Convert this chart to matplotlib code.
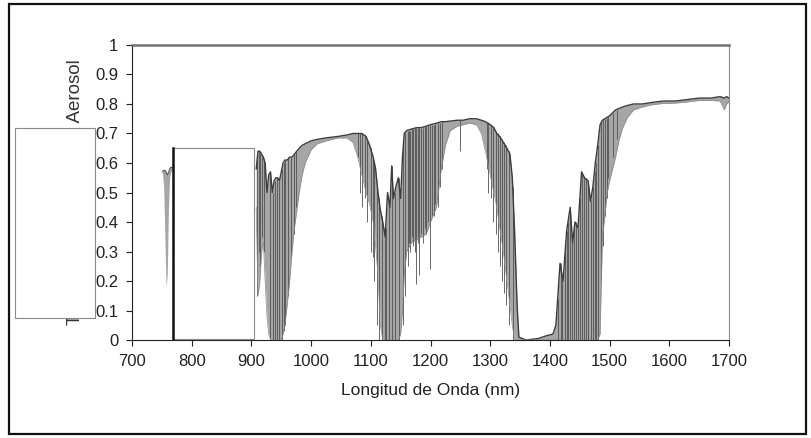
import matplotlib
matplotlib.use("Agg")
import matplotlib.pyplot as plt
from matplotlib.patches import Rectangle

plt.rcParams["font.family"] = ["Liberation Sans", "DejaVu Sans"]

# O2 A-band fragment visible left of the covering box
O2_WL = [751, 753, 755, 757, 759, 761, 763, 765, 767, 769]
O2_TOP = [0.57, 0.575, 0.575, 0.57, 0.56, 0.565, 0.58, 0.585, 0.585, 0.585]
O2_LOW = [0.565, 0.52, 0.35, 0.18, 0.22, 0.45, 0.55, 0.57, 0.575, 0.58]

# main spectrum, upper and lower envelope (nm, transmittance)
WL = [908, 911, 914, 917, 920, 923, 926, 929, 932, 935, 938, 941, 944, 947,
      950, 953, 956, 960, 964, 968, 972, 976, 980, 985, 990, 1000, 1010, 1025,
      1045, 1060, 1070, 1078, 1085, 1092, 1098, 1104, 1108, 1112, 1116, 1120,
      1124, 1128, 1132, 1135, 1138, 1142, 1146, 1150, 1153, 1156, 1160, 1168,
      1177, 1185, 1193, 1200, 1210, 1218, 1225, 1233, 1245, 1255, 1265, 1277,
      1285, 1292, 1300, 1306, 1311, 1316, 1322, 1328, 1333, 1337, 1341, 1345,
      1348, 1360, 1380, 1395, 1405, 1410, 1413, 1417, 1422, 1428, 1434, 1438,
      1442, 1447, 1453, 1458, 1464, 1468, 1472, 1476, 1480, 1484, 1488, 1492,
      1496, 1500, 1505, 1510, 1516, 1522, 1530, 1540, 1555, 1570, 1590, 1610,
      1630, 1650, 1670, 1685, 1692, 1696, 1700]
TOP = [0.58, 0.64, 0.64, 0.63, 0.62, 0.60, 0.50, 0.56, 0.57, 0.50, 0.54, 0.55, 0.55, 0.54,
       0.57, 0.60, 0.61, 0.61, 0.62, 0.62, 0.63, 0.64, 0.65, 0.66, 0.665, 0.675, 0.68, 0.685,
       0.69, 0.695, 0.70, 0.70, 0.70, 0.69, 0.66, 0.62, 0.58, 0.50, 0.44, 0.40,
       0.35, 0.50, 0.45, 0.59, 0.48, 0.52, 0.55, 0.48, 0.62, 0.70, 0.71, 0.715,
       0.72, 0.72, 0.725, 0.73, 0.735, 0.74, 0.74, 0.742, 0.745, 0.745, 0.75, 0.75,
       0.745, 0.74, 0.73, 0.72, 0.70, 0.69, 0.67, 0.65, 0.63, 0.55, 0.36, 0.12,
       0.01, 0.0, 0.005, 0.015, 0.02, 0.05, 0.14, 0.26, 0.20, 0.37, 0.45, 0.33,
       0.40, 0.38, 0.57, 0.55, 0.54, 0.47, 0.52, 0.60, 0.66, 0.73, 0.745, 0.75,
       0.755, 0.76, 0.77, 0.78, 0.785, 0.79, 0.795, 0.80, 0.80, 0.805, 0.81, 0.81,
       0.815, 0.82, 0.82, 0.825, 0.82, 0.825, 0.82]
LOW = [0.45, 0.15, 0.20, 0.30, 0.33, 0.20, 0.08, 0.02, 0.0, 0.0, 0.0, 0.0, 0.0, 0.0,
       0.0, 0.02, 0.05, 0.12, 0.20, 0.30, 0.38, 0.44, 0.50, 0.56, 0.60, 0.645, 0.665, 0.675,
       0.685, 0.685, 0.67, 0.62, 0.56, 0.50, 0.46, 0.40, 0.32, 0.22, 0.05, 0.0,
       0.0, 0.0, 0.0, 0.0, 0.0, 0.0, 0.0, 0.02, 0.10, 0.22, 0.30, 0.33,
       0.34, 0.35, 0.36, 0.40, 0.45, 0.58, 0.66, 0.71, 0.725, 0.73, 0.735, 0.73,
       0.70, 0.64, 0.56, 0.50, 0.45, 0.38, 0.30, 0.20, 0.12, 0.05, 0.0, 0.0,
       0.0, 0.0, 0.0, 0.0, 0.0, 0.0, 0.0, 0.0, 0.0, 0.0, 0.0, 0.0,
       0.0, 0.0, 0.0, 0.0, 0.0, 0.0, 0.0, 0.0, 0.0, 0.02, 0.35, 0.42,
       0.50, 0.54, 0.58, 0.62, 0.68, 0.72, 0.755, 0.78, 0.79, 0.797, 0.802, 0.803,
       0.807, 0.812, 0.812, 0.81, 0.78, 0.80, 0.808]

# darker absorption strands
LINE_WL = [910, 912, 915, 918, 921, 931, 936, 939, 943, 946, 951, 954, 957, 962, 966, 971, 975,
           1078, 1082, 1086, 1090, 1094, 1100, 1104, 1106, 1111, 1114, 1118, 1123, 1126, 1130,
           1135, 1141, 1147, 1154,
           1158, 1162, 1164, 1166, 1169, 1171, 1174, 1176, 1179, 1181, 1184, 1187, 1190,
           1193, 1196, 1199, 1202, 1205, 1208, 1212, 1216, 1220, 1250,
           1294, 1297, 1301, 1305, 1309, 1313, 1317, 1320, 1323, 1326, 1332, 1338,
           1414, 1418, 1421, 1425, 1428, 1431, 1434, 1437, 1440, 1443, 1447, 1450, 1453,
           1457, 1460, 1464, 1468, 1472, 1475, 1477, 1481, 1486, 1489, 1492, 1495, 1498,
           1505, 1512]
LINE_TOP = [0.62, 0.64, 0.63, 0.62, 0.61, 0.56, 0.50, 0.54, 0.55, 0.54, 0.58, 0.60, 0.61, 0.62, 0.62, 0.63, 0.64,
            0.70, 0.70, 0.70, 0.695, 0.68, 0.65, 0.62, 0.60, 0.52, 0.48, 0.42, 0.36, 0.38, 0.46,
            0.59, 0.50, 0.55, 0.66,
            0.70, 0.71, 0.71, 0.71, 0.715, 0.715, 0.72, 0.72, 0.72, 0.72, 0.72, 0.72, 0.722,
            0.725, 0.727, 0.73, 0.73, 0.73, 0.733, 0.735, 0.737, 0.74, 0.745,
            0.737, 0.735, 0.73, 0.72, 0.71, 0.70, 0.69, 0.68, 0.67, 0.66, 0.64, 0.52,
            0.14, 0.26, 0.22, 0.30, 0.37, 0.40, 0.45, 0.36, 0.38, 0.40, 0.38, 0.48, 0.57,
            0.55, 0.55, 0.54, 0.47, 0.52, 0.57, 0.60, 0.66, 0.74, 0.745, 0.75, 0.752, 0.755,
            0.77, 0.78]
LINE_LOW = [0.15, 0.30, 0.25, 0.35, 0.30, 0.0, 0.0, 0.0, 0.0, 0.0, 0.0, 0.03, 0.05, 0.15, 0.28, 0.36, 0.45,
            0.62, 0.50, 0.45, 0.48, 0.40, 0.30, 0.28, 0.20, 0.05, 0.0, 0.0, 0.0, 0.0, 0.0,
            0.0, 0.0, 0.0, 0.05,
            0.15, 0.25, 0.33, 0.30, 0.35, 0.32, 0.30, 0.19, 0.33, 0.22, 0.36, 0.33, 0.38,
            0.36, 0.40, 0.24, 0.42, 0.42, 0.46, 0.45, 0.52, 0.58, 0.64,
            0.58, 0.50, 0.48, 0.40, 0.36, 0.30, 0.25, 0.20, 0.16, 0.12, 0.05, 0.0,
            0.0, 0.0, 0.0, 0.0, 0.0, 0.0, 0.0, 0.0, 0.0, 0.0, 0.0, 0.0, 0.0,
            0.0, 0.0, 0.0, 0.0, 0.0, 0.0, 0.0, 0.0, 0.20, 0.32, 0.42, 0.48, 0.55,
            0.62, 0.68]

X_TICKS = [700, 800, 900, 1000, 1100, 1200, 1300, 1400, 1500, 1600, 1700]
Y_TICKS = [0, 0.1, 0.2, 0.3, 0.4, 0.5, 0.6, 0.7, 0.8, 0.9, 1]
Y_LABELS = ["0", "0.1", "0.2", "0.3", "0.4", "0.5", "0.6", "0.7", "0.8", "0.9", "1"]

fig = plt.figure(figsize=(8.11, 4.38), dpi=100)
ax = fig.add_axes([0.1628, 0.2237, 0.7361, 0.6736])

fill_c = "#a6a6a6"
dark_c = "#505050"
ax.fill_between(O2_WL, O2_LOW, O2_TOP, color=fill_c, lw=0, zorder=2)
ax.plot(O2_WL, O2_TOP, color=dark_c, lw=0.8, zorder=3)
ax.fill_between(WL, LOW, TOP, color=fill_c, lw=0, zorder=2)
ax.vlines(LINE_WL, LINE_LOW, LINE_TOP, color=dark_c, lw=0.6, zorder=3)
ax.plot(WL, TOP, color="#3c3c3c", lw=1.0, zorder=3)
ax.plot(WL, LOW, color="#8a8a8a", lw=0.5, zorder=3)

ax.set_xlim(700, 1700)
ax.set_ylim(0, 1)
ax.set_xticks(X_TICKS)
ax.set_yticks(Y_TICKS)
ax.set_yticklabels(Y_LABELS)
ax.tick_params(axis="both", direction="out", length=4, width=0.8,
               labelsize=12, colors="#222222", pad=6)

ax.spines["left"].set_color("#222222")
ax.spines["bottom"].set_color("#222222")
ax.spines["top"].set_color("#707070")
ax.spines["top"].set_linewidth(1.8)
ax.spines["right"].set_color("#888888")
ax.spines["right"].set_linewidth(0.8)

ax.set_xlabel("Longitud de Onda (nm)", fontsize=12.5, color="#222222", labelpad=10)
ax.set_ylabel("Transmitancia debida al Aerosol", fontsize=13.5, color="#333333",
              labelpad=8)

# white patches covering parts of the original scan
box2 = Rectangle((769, 0.005), 136, 0.645, facecolor="white",
                 edgecolor="#8a8a8a", lw=0.8, zorder=10, clip_on=False)
ax.add_patch(box2)
ax.plot([769, 769], [0.005, 0.65], color="#111111", lw=1.8, zorder=11)

box1 = Rectangle((0.0185, 0.274), 0.0986, 0.434, transform=fig.transFigure,
                 facecolor="white", edgecolor="#8a8a8a", lw=0.8)
fig.add_artist(box1)

frame = Rectangle((0.011, 0.009), 0.983, 0.982, transform=fig.transFigure,
                  facecolor="none", edgecolor="#111111", lw=1.6)
fig.add_artist(frame)

fig.savefig("out.png", dpi=100, facecolor="white")
